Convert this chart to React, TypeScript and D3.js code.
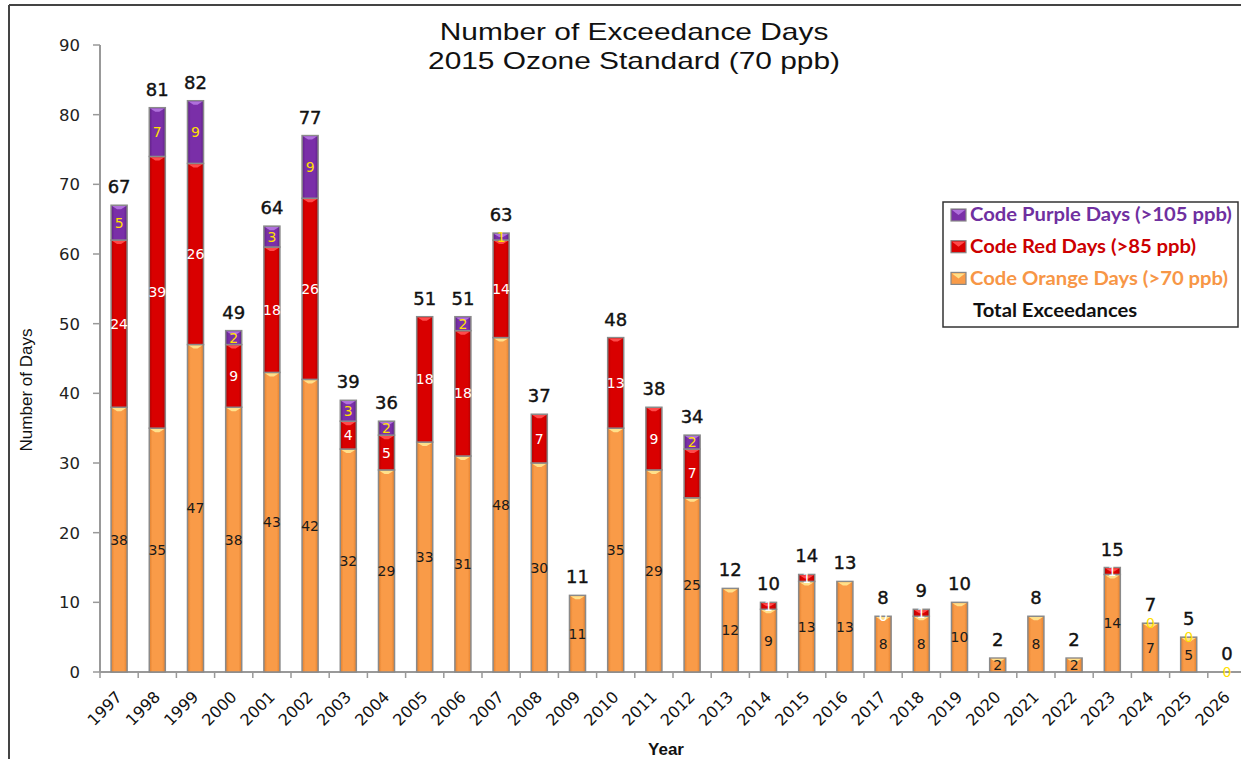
import React from "react";
import * as d3 from "d3";

const years = [1997,1998,1999,2000,2001,2002,2003,2004,2005,2006,2007,2008,2009,2010,2011,2012,2013,2014,2015,2016,2017,2018,2019,2020,2021,2022,2023,2024,2025,2026];
const orangeDays = [38,35,47,38,43,42,32,29,33,31,48,30,11,35,29,25,12,9,13,13,8,8,10,2,8,2,14,7,5,0];
const redDays =    [24,39,26,9,18,26,4,5,18,18,14,7,0,13,9,7,0,1,1,0,0,1,0,0,0,0,1,0,0,0];
const purpleDays = [5,7,9,2,3,9,3,2,0,2,1,0,0,0,0,2,0,0,0,0,0,0,0,0,0,0,0,0,0,0];
const totalDays =  [67,81,82,49,64,77,39,36,51,51,63,37,11,48,38,34,12,10,14,13,8,9,10,2,8,2,15,7,5,0];
// zero-valued segment labels that are visible in the picture
const shownZeroLabels = [
  { year: 2017, series: "red" },
  { year: 2024, series: "purple" },
  { year: 2025, series: "purple" },
  { year: 2026, series: "purple" },
];
const yTicks = [0,10,20,30,40,50,60,70,80,90];
const titleLines = ["Number of Exceedance Days", "2015 Ozone Standard (70 ppb)"];
const legendItems = [
  { key: "purple", label: "Code Purple Days (>105 ppb)" },
  { key: "red", label: "Code Red Days (>85 ppb)" },
  { key: "orange", label: "Code Orange Days (>70 ppb)" },
  { key: "total", label: "Total Exceedances" },
];

const W = 1241, H = 759;
const X0 = 100, STEP = 38.2;
const Y0 = 672, Y90 = 45;

const seriesStyle: Record<string, { fill: string; cap: string; dark: string; label: string; legendText: string }> = {
  orange: { fill: "#F99B48", cap: "#FFE08A", dark: "#E27F2C", label: "#1a1a1a", legendText: "#F79646" },
  red: { fill: "#D90000", cap: "#FF4A4A", dark: "#B00000", label: "#FFFFFF", legendText: "#CC0000" },
  purple: { fill: "#7A2FA8", cap: "#B070DC", dark: "#5E1F86", label: "#FFE000", legendText: "#7030A0" },
};

export default function App() {
  const x = d3.scaleBand<number>()
    .domain(years)
    .range([X0, X0 + STEP * years.length])
    .paddingInner(0.58)
    .paddingOuter(0.29);
  const y = d3.scaleLinear().domain([0, 90]).range([Y0, Y90]);
  const bw = x.bandwidth();

  const rows = years.map((yr, i) => ({
    year: yr,
    orange: orangeDays[i],
    red: redDays[i],
    purple: purpleDays[i],
    total: totalDays[i],
  }));
  const keys = ["orange", "red", "purple"];
  const stacked = d3.stack<any>().keys(keys)(rows);

  const numFont = "'DejaVu Sans', Verdana, sans-serif";
  const titleFont = "'Liberation Sans', Arial, sans-serif";
  const legendFont = "Lato, 'Open Sans', sans-serif";
  const titleStretch = 1.3;
  const legendStretch = 1.125;

  return (
    <svg width={W} height={H} style={{ position: "absolute", left: 0, top: 0, background: "#fff" }}>
      <defs>
        {keys.map((k) => (
          <linearGradient key={k} id={`g-${k}`} x1="0" x2="1" y1="0" y2="0">
            <stop offset="0" stopColor={seriesStyle[k].dark} />
            <stop offset="0.2" stopColor={seriesStyle[k].fill} />
            <stop offset="0.8" stopColor={seriesStyle[k].fill} />
            <stop offset="1" stopColor={seriesStyle[k].dark} />
          </linearGradient>
        ))}
      </defs>
      {/* frame */}
      <line x1={9} y1={5} x2={W} y2={5} stroke="#444" strokeWidth={2} />
      <line x1={9} y1={5} x2={9} y2={H} stroke="#444" strokeWidth={2} />

      {/* title */}
      {titleLines.map((t, i) => (
        <text key={t} transform={`translate(634,${40 + i * 29}) scale(${titleStretch},1)`} textAnchor="middle" fontFamily={titleFont} fontSize={23} fill="#111">{t}</text>
      ))}

      {/* y axis */}
      <line x1={X0} y1={Y90} x2={X0} y2={Y0} stroke="#999" strokeWidth={2} />
      {yTicks.map((t) => (
        <g key={t}>
          <line x1={X0 - 7} x2={X0} y1={y(t)} y2={y(t)} stroke="#999" strokeWidth={1.5} />
          <text x={80} y={y(t)} dy="0.36em" textAnchor="end" fontFamily={numFont} fontSize={16.5} fill="#222">{t}</text>
        </g>
      ))}
      <text transform={`translate(32,${390}) rotate(-90)`} textAnchor="middle" fontFamily="'Liberation Sans Narrow', 'Liberation Sans', Arial, sans-serif" fontSize={17} fill="#111">Number of Days</text>

      {/* x axis */}
      <line x1={X0} y1={Y0} x2={W} y2={Y0} stroke="#999" strokeWidth={2} />
      {years.map((yr, i) => (
        <line key={yr} x1={X0 + i * STEP} x2={X0 + i * STEP} y1={Y0} y2={Y0 + 6} stroke="#999" strokeWidth={1.5} />
      ))}
      {years.map((yr) => {
        const cx = (x(yr) as number) + bw / 2;
        return (
          <text key={yr} transform={`translate(${cx},${Y0 + 22}) rotate(-45)`} textAnchor="end" dy="0.35em" fontFamily={numFont} fontSize={16} fill="#111">{yr}</text>
        );
      })}
      <text x={666} y={755} textAnchor="middle" fontFamily={titleFont} fontWeight="bold" fontSize={17} fill="#111">Year</text>

      {/* bars */}
      {stacked.map((s) => (
        <g key={s.key}>
          {s.map((d, i) => {
            const v = d[1] - d[0];
            if (v <= 0) return null;
            const x0 = x(years[i]) as number;
            const yt = y(d[1]);
            const yb = y(d[0]);
            const capH = Math.min(4, (yb - yt) * 0.6);
            return (
              <g key={i}>
                <rect x={x0} y={yt} width={bw} height={yb - yt} fill={`url(#g-${s.key})`} stroke="#8a8a8a" strokeWidth={1.5} />
                <path d={`M${x0 + 1},${yt + 0.8} L${x0 + bw - 1},${yt + 0.8} L${x0 + bw / 2 + 2},${yt + capH} L${x0 + bw / 2 - 2},${yt + capH} Z`} fill={seriesStyle[s.key].cap} />
              </g>
            );
          })}
        </g>
      ))}

      {/* segment labels */}
      {stacked.map((s) => (
        <g key={`l-${s.key}`}>
          {s.map((d, i) => {
            const v = d[1] - d[0];
            const showZero = shownZeroLabels.some((z) => z.year === years[i] && z.series === s.key);
            if (v <= 0 && !showZero) return null;
            const cx = (x(years[i]) as number) + bw / 2;
            const cy = (y(d[0]) + y(d[1])) / 2;
            return (
              <text key={i} x={cx} y={cy} dy="0.36em" textAnchor="middle" fontFamily={numFont} fontSize={14} fill={seriesStyle[s.key].label}>{v}</text>
            );
          })}
        </g>
      ))}

      {/* totals */}
      {rows.map((r) => (
        <text key={r.year} x={(x(r.year) as number) + bw / 2} y={y(r.total) - 12} textAnchor="middle" fontFamily={numFont} fontSize={18} fill="#111" stroke="#111" strokeWidth={0.4}>{r.total}</text>
      ))}

      {/* legend */}
      <rect x={943} y={202} width={295} height={125} fill="#fff" stroke="#333" strokeWidth={1.5} />
      {legendItems.map((it, i) => {
        const ly = 215 + i * 31.7;
        const st = seriesStyle[it.key];
        const tx = it.key === "total" ? 973 : 970;
        return (
          <g key={it.key}>
            {st && (
              <g>
                <rect x={951} y={ly - 6} width={15} height={12} fill={st.fill} stroke="#888" strokeWidth={1.2} />
                <path d={`M952,${ly - 5} L965,${ly - 5} L958.5,${ly} Z`} fill={st.cap} />
              </g>
            )}
            <text transform={`translate(${tx},${ly}) scale(${legendStretch},1)`} dy="0.36em" fontFamily={legendFont} fontWeight="bold" fontSize={18} fill={st ? st.legendText : "#111"}>{it.label}</text>
          </g>
        );
      })}
    </svg>
  );
}
